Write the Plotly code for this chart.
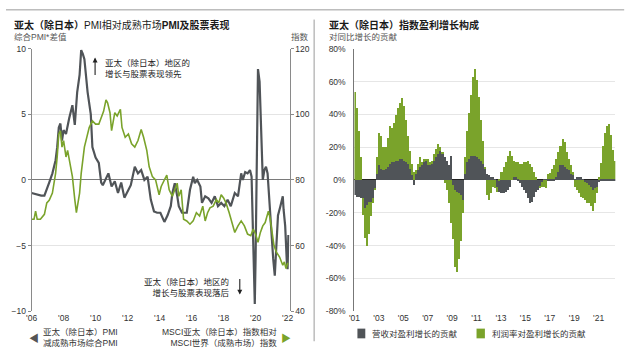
import plotly.graph_objects as go

W, H = 640, 355
def px(x): return x / W
def py(y): return 1 - y / H

FONT = "Liberation Sans, Arial, Noto Sans CJK SC, sans-serif"
GREY = "#505458"
GREEN = "#7aa32b"

# ---------------- Left chart data ----------------
pmi_x = [2006.0, 2006.3, 2006.6, 2006.8, 2007.0, 2007.1, 2007.3, 2007.5, 2007.6, 2007.7, 2007.8, 2007.9,
         2008.0, 2008.15, 2008.35, 2008.55, 2008.7, 2008.85, 2009.0, 2009.1, 2009.2, 2009.3, 2009.5, 2009.7,
         2009.8, 2010.0, 2010.2, 2010.35, 2010.45, 2010.6, 2010.8, 2011.0, 2011.2, 2011.4, 2011.6, 2011.8,
         2012.0, 2012.2, 2012.45, 2012.65, 2012.85, 2013.05, 2013.25, 2013.45, 2013.65, 2013.85, 2014.05,
         2014.3, 2014.5, 2014.7, 2014.8, 2014.95, 2015.1, 2015.2, 2015.4, 2015.7, 2015.9, 2016.1, 2016.2,
         2016.35, 2016.55, 2016.65, 2016.85, 2017.05, 2017.25, 2017.45, 2017.65, 2017.85, 2018.05, 2018.25,
         2018.45, 2018.7, 2018.9, 2019.1, 2019.2, 2019.35, 2019.5, 2019.65, 2019.75, 2019.85, 2019.95,
         2020.0, 2020.1, 2020.15, 2020.25, 2020.35, 2020.45, 2020.55, 2020.65, 2020.75, 2020.85, 2020.95,
         2021.1, 2021.2, 2021.3, 2021.4, 2021.55, 2021.7, 2021.75, 2021.85, 2021.95, 2022.0, 2022.05]
pmi_diff = [-1.0, -1.1, -1.2, -1.2, -0.6, -0.2, 0.5, 1.5, 2.5, 4.0, 4.3, 3.0,
            3.8, 3.5, 4.7, 5.7, 4.2, 6.7, 8.0, 9.9, 9.6, 9.2, 6.7, 5.0,
            2.5, 1.7, 1.3, -0.2, -0.4, 0.0, 0.5, -0.5, -0.1, -1.0, -0.2, -1.35,
            -0.9, -0.4, 1.0, 0.5, 0.75, 0.0, 0.25, -1.5, -2.4, -2.5, -2.5,
            -3.2, -2.7, -2.0, -1.0, -0.25, -1.2, -2.0, -2.5, -2.5, -0.75, 0.25, -0.25,
            0.0, -0.5, -1.75, -1.25, -1.4, -1.75, -1.25, -2.0, -1.75, -2.0, -1.5,
            -2.0, -1.0, -1.25, 0.5, 0.0, 0.6, 0.5, 0.75, 0.25, -4.5, -9.45,
            -6.0, 5.5, 8.45, 7.5, 3.5, 0.0, 0.75, 1.0, 0.5, -1.5, -3.7,
            -6.0, -7.3, -4.5, -2.7, -2.0, -1.25, -2.25, -3.5, -6.2, -6.8, -4.2]

msci_x = [2006.0, 2006.15, 2006.25, 2006.35, 2006.55, 2006.8, 2006.95, 2007.1, 2007.3, 2007.5, 2007.6, 2007.7,
          2007.8, 2007.9, 2008.0, 2008.15, 2008.25, 2008.35, 2008.55, 2008.7, 2008.8, 2009.0, 2009.1, 2009.3,
          2009.45, 2009.6, 2009.8, 2010.0, 2010.2, 2010.35, 2010.5, 2010.65, 2010.75, 2010.9, 2011.0, 2011.2,
          2011.35, 2011.55, 2011.65, 2011.85, 2012.05, 2012.25, 2012.45, 2012.65, 2012.85, 2013.0, 2013.2,
          2013.35, 2013.55, 2013.75, 2013.97, 2014.1, 2014.3, 2014.45, 2014.6, 2014.8, 2014.95, 2015.1,
          2015.2, 2015.35, 2015.5, 2015.7, 2015.9, 2016.1, 2016.3, 2016.5, 2016.7, 2016.85, 2017.0, 2017.15,
          2017.35, 2017.55, 2017.7, 2017.85, 2018.0, 2018.15, 2018.35, 2018.5, 2018.7, 2018.9, 2019.1,
          2019.3, 2019.5, 2019.7, 2019.85, 2020.0, 2020.15, 2020.3, 2020.45, 2020.6, 2020.7, 2020.8, 2020.9,
          2021.0, 2021.15, 2021.3, 2021.5, 2021.7, 2021.8, 2021.9, 2022.0, 2022.05]
msci_rel = [68, 68, 70.5, 68, 68, 69.5, 73, 73.8, 76, 82, 87, 94,
            95, 90, 92, 87, 89, 86, 81, 74, 70, 76, 82, 90,
            92.9, 96, 98, 97, 97, 99, 100.9, 104.4, 103.5, 100.5, 95, 100.5,
            99.5, 101.5, 96, 93, 94, 91, 90, 92, 95.4, 93, 89,
            84, 81, 80, 75.5, 78, 80, 81.5, 77, 75, 77, 79,
            75, 77, 68, 67.5, 66.5, 67.5, 70, 69, 72, 67.5, 70, 71.5,
            72, 74, 73, 75.5, 74.5, 73, 70, 67.5, 64, 66, 67.5,
            66, 63.5, 63, 65, 63.5, 61, 64, 66, 67, 68.5, 70.5, 68.5,
            65, 60, 58, 56.5, 54, 55, 53, 54.5, 54.5]

left_years = list(range(2006, 2023, 2))
left_year_labels = ["'06", "'08", "'10", "'12", "'14", "'16", "'18", "'20", "'22"]

# ---------------- Right chart data (bi-monthly, from Jan-Feb 2001) ----------------
eps_start_year = 2001
periods_per_year = 6
revenue_contrib = [
    -9, -10, -10, -11, -11, -17,      # 2001
    -15, -13, -13, -11, -5, 4,        # 2002
    9, 7, 6, 7, 8, 10,                # 2003
    11, 11, 12, 12, 13, 13,           # 2004
    12, 11, 10, 7, 3, -3,             # 2005
    4, 6, 8, 9, 11, 12,               # 2006
    9, 9, 10, 12, 14, 16,             # 2007
    18, 16, 14, 12, 9, 15,            # 2008
    -3, -6, -7, -8, -9, -12,          # 2009
    4, 11, 13, 15, 15, 15,            # 2010
    14, 13, 12, 10, 7, 4,             # 2011
    3, 2, 2, 1, -4, -7,               # 2012
    -8, -8, -7, -6, -4, 0,            # 2013
    2, 2, 1, -2, -4, -6,              # 2014
    -8, -11, -14, -13, -10, -7,       # 2015
    -6, -4, -1, 1, 1, 0.5,            # 2016
    0.5, 1, 1, 2, 5, 9,               # 2017
    9, 8, 7, 6, 4, 3,                 # 2018
    0.5, 2, 2, 2, 0.5, -1,            # 2019
    -2, -3, -4, -6, -5, -4,           # 2020
    -1, 0.5, 1, 1, 1, 1,              # 2021
    0.5, 0.5, 0.5,                    # 2022
]
margin_contrib = [
    54, 44, 30, 14, -10, -18,         # 2001
    -25, -20, -9, -3, -1, 10,         # 2002
    20, 20, 14, 13, 18, 23,           # 2003
    21, 24, 28, 32, 34, 37,           # 2004
    33, 26, 17, 11, 7, 5,             # 2005
    2, 4, 6, 2, 2, 1,                 # 2006
    4, 2, 2, 4, 5, 6,                 # 2007
    2, 1, -2, -6, -14, -26,           # 2008
    -33, -47, -49, -40, -28, -8,      # 2009
    10, 19, 28, 37, 48, 53,           # 2010
    47, 38, 25, 14, 1, -9,            # 2011
    -12, -8, -4, -5, -3, 1,           # 2012
    5, 8, 11, 15, 18, 15,             # 2013
    10, 9, 10, 10, 10, 11,            # 2014
    11, 12, 10, 8, 5, 2,              # 2015
    0, -1, -3, -4, -5, 3,             # 2016
    4, 6, 8, 11, 12, 12,              # 2017
    16, 15, 10, 7, 5, 2,              # 2018
    -4, -6, -8, -10, -11, -11,        # 2019
    -12, -11, -12, -13, -9, -4,       # 2020
    2, 10, 20, 28, 32, 33,            # 2021
    27, 18, 11,                       # 2022
]
eps_x = [eps_start_year + (i + 0.5) / periods_per_year for i in range(len(revenue_contrib))]
right_years = list(range(2001, 2022, 2))
right_year_labels = ["'01", "'03", "'05", "'07", "'09", "'11", "'13", "'15", "'17", "'19", "'21"]
pct_ticks = [-80, -60, -40, -20, 0, 20, 40, 60, 80]

fig = go.Figure()
fig.add_trace(go.Scatter(x=msci_x, y=msci_rel, mode="lines", line=dict(color=GREEN, width=1.6),
                         xaxis="x", yaxis="y2", showlegend=False, hoverinfo="skip"))
fig.add_trace(go.Scatter(x=pmi_x, y=pmi_diff, mode="lines", line=dict(color=GREY, width=2.2),
                         xaxis="x", yaxis="y", showlegend=False, hoverinfo="skip"))
bw = 1.0 / periods_per_year
fig.add_trace(go.Bar(x=eps_x, y=revenue_contrib, width=bw, marker=dict(color=GREY, line=dict(width=0)),
                     xaxis="x2", yaxis="y3", showlegend=False))
fig.add_trace(go.Bar(x=eps_x, y=margin_contrib, width=bw, marker=dict(color=GREEN, line=dict(width=0)),
                     xaxis="x2", yaxis="y3", showlegend=False))

ydom = [py(315), py(45)]
tickfont = dict(family=FONT, size=8.5, color="#333")

fig.update_layout(
    width=W, height=H, margin=dict(l=0, r=0, t=0, b=0),
    paper_bgcolor="white", plot_bgcolor="white",
    barmode="relative", bargap=0,
    font=dict(family=FONT, size=8.5, color="#333"),
    xaxis=dict(domain=[px(26), px(288)], range=[2006, 2022.12], anchor="y",
               tickvals=left_years, ticktext=left_year_labels, showgrid=False, zeroline=False,
               showline=False, ticks="", tickfont=tickfont),
    yaxis=dict(domain=ydom, range=[-10, 10], tickvals=[-10, -5, 0, 5, 10], anchor="x",
               showgrid=True, gridcolor="#e4e4e4", gridwidth=1,
               zeroline=True, zerolinecolor="#7a7a7a", zerolinewidth=1.2,
               showline=True, linecolor="#8a8a8a", linewidth=1, ticks="outside", ticklen=3,
               tickcolor="#8a8a8a", tickfont=tickfont),
    yaxis2=dict(overlaying="y", side="right", anchor="x", range=[40, 120],
                tickvals=[40, 60, 80, 100, 120], showgrid=False, zeroline=False,
                showline=True, linecolor="#8a8a8a", linewidth=1, ticks="outside", ticklen=3,
                tickcolor="#8a8a8a", tickfont=tickfont),
    xaxis2=dict(domain=[px(354), px(619)], range=[2001, 2022.37], anchor="y3",
                tickvals=right_years, ticktext=right_year_labels, showgrid=False, zeroline=False,
                showline=False, ticks="", tickfont=tickfont),
    yaxis3=dict(domain=ydom, range=[-80, 80], anchor="x2", tickvals=pct_ticks,
                ticktext=[f"{v}%" for v in pct_ticks],
                showgrid=True, gridcolor="#e6e6e6", gridwidth=1.2,
                zeroline=True, zerolinecolor="#222", zerolinewidth=1.3,
                showline=True, linecolor="#777", linewidth=1.2, ticks="", ticklabelstandoff=6,
                tickfont=tickfont),
)

shapes = [
    dict(type="line", xref="paper", yref="paper", x0=px(0), x1=px(628), y0=py(5), y1=py(5),
         line=dict(color="#9a9a9a", width=1)),
    dict(type="line", xref="paper", yref="paper", x0=px(313), x1=px(313), y0=py(15), y1=py(346),
         line=dict(color="#9a9a9a", width=1)),
    dict(type="rect", xref="paper", yref="paper", x0=px(357), x1=px(365), y0=py(343), y1=py(333),
         fillcolor=GREY, line=dict(width=0)),
    dict(type="rect", xref="paper", yref="paper", x0=px(478), x1=px(486.5), y0=py(343), y1=py(333),
         fillcolor=GREEN, line=dict(width=0)),
]
fig.update_layout(shapes=shapes)

def ann(text, x, y, xanchor="left", size=8.5, color="#333", align="left", yanchor="middle"):
    return dict(text=text, x=px(x), y=py(y), xref="paper", yref="paper", showarrow=False,
                xanchor=xanchor, yanchor=yanchor, align=align,
                font=dict(family=FONT, size=size, color=color))

annotations = [
    ann("<b>亚太（除日本）</b>PMI相对成熟市场<b>PMI及股票表现</b>", 6, 21, size=10, color="#1a1a1a"),
    ann("综合PMI*差值", 6, 33, size=8.5, color="#555"),
    ann("指数", 310, 33, xanchor="right", size=8.5, color="#555"),
    ann("<b>亚太（除日本）指数盈利增长构成</b>", 326, 21, size=10, color="#1a1a1a"),
    ann("对同比增长的贡献", 326, 33, size=8.5, color="#555"),
    ann("亚太（除日本）地区的<br>增长与股票表现领先", 99, 65.5, size=8.5, color="#222"),
    ann("亚太（除日本）地区的<br>增长与股票表现落后", 229.5, 290.5, xanchor="right", align="right",
        size=8.5, color="#222"),
    ann("◀", 28.5, 343, xanchor="center", size=10, color="#555"),
    ann("亚太（除日本）PMI<br>减成熟市场综合PMI", 36, 342.5, size=8.5),
    ann("MSCI亚太（除日本）指数相对<br>MSCI世界（成熟市场）指数", 277, 342.5, xanchor="right",
        align="right", size=8.5),
    ann("▶", 284, 343, xanchor="center", size=10, color=GREEN),
    ann("营收对盈利增长的贡献", 370, 338.5, size=8.5),
    ann("利润率对盈利增长的贡献", 491.5, 338.5, size=8.5),
    dict(text="", x=px(90.5), y=py(54), xref="paper", yref="paper", ax=0, ay=19,
         showarrow=True, arrowhead=2, arrowsize=0.9, arrowwidth=1.1, arrowcolor="#222"),
    dict(text="", x=px(237.5), y=py(298), xref="paper", yref="paper", ax=0, ay=-17,
         showarrow=True, arrowhead=2, arrowsize=0.9, arrowwidth=1.1, arrowcolor="#222"),
]
fig.update_layout(annotations=annotations)

fig.write_html("out.html", config={"displayModeBar": False},
               post_script="document.body.style.margin='0px';document.body.style.overflow='hidden';")
